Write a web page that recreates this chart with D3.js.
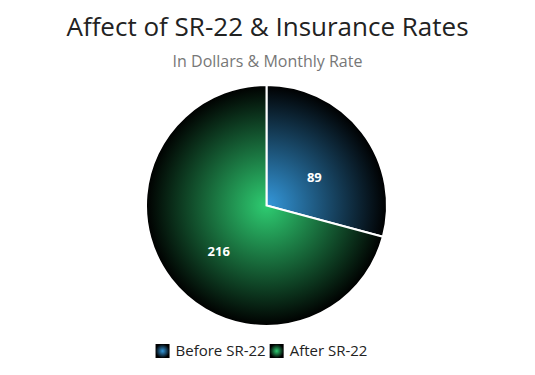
<!DOCTYPE html>
<html>
<head>
<meta charset="utf-8">
<script src="https://cdn.jsdelivr.net/npm/d3@7"></script>
<style>
  body { margin: 0; background: #fff; }
  svg { display: block; font-family: 'Open Sans', sans-serif; }
</style>
</head>
<body>
<svg id="chart" width="535" height="375"></svg>
<script>
// chart data
var categories = ['Before SR-22', 'After SR-22']
var values = [89, 216]
var colors = ['#3498db', '#2ecc71']
var title = 'Affect of SR-22 & Insurance Rates'
var subtitle = 'In Dollars & Monthly Rate'

var svg = d3.select('#chart'),
  width = +svg.attr('width'),
  height = +svg.attr('height')

var cx = 266.5, cy = 205.5, radius = 120.5

var defs = svg.append('defs')

// one radial gradient per slice, bright at the pie centre, black at the rim
categories.forEach(function (c, i) {
  var grad = defs.append('radialGradient')
    .attr('id', 'grad' + i)
    .attr('gradientUnits', 'userSpaceOnUse')
    .attr('cx', 0).attr('cy', 0).attr('r', radius)
  grad.append('stop').attr('offset', '0%').attr('stop-color', colors[i])
  grad.append('stop').attr('offset', '100%').attr('stop-color', '#000')

  // legend swatch gradient (bounding box units)
  var lg = defs.append('radialGradient')
    .attr('id', 'legGrad' + i)
  lg.append('stop').attr('offset', '0%').attr('stop-color', colors[i])
  lg.append('stop').attr('offset', '100%').attr('stop-color', '#000')
})

svg.append('text')
  .attr('x', width / 2)
  .attr('y', 36)
  .attr('text-anchor', 'middle')
  .attr('font-size', 26)
  .attr('fill', '#222')
  .text(title)

svg.append('text')
  .attr('x', width / 2)
  .attr('y', 67)
  .attr('text-anchor', 'middle')
  .attr('font-size', 16)
  .attr('fill', '#777')
  .text(subtitle)

var pie = d3.pie().sort(null).value(function (d) { return d })
var arc = d3.arc().innerRadius(0).outerRadius(radius)
var labelArc = d3.arc().innerRadius(radius * 0.5).outerRadius(radius * 0.5)

var g = svg.append('g')
  .attr('transform', 'translate(' + cx + ',' + cy + ')')

var arcs = pie(values)

g.selectAll('path')
  .data(arcs)
  .enter().append('path')
  .attr('d', arc)
  .attr('fill', function (d, i) { return 'url(#grad' + i + ')' })
  .attr('stroke', '#fff')
  .attr('stroke-width', 2)

g.selectAll('text.lbl')
  .data(arcs)
  .enter().append('text')
  .attr('class', 'lbl')
  .attr('transform', function (d) {
    var c = labelArc.centroid(d)
    return 'translate(' + c[0] + ',' + (c[1] + 9) + ')'
  })
  .attr('text-anchor', 'middle')
  .attr('dy', '0.35em')
  .attr('font-size', 13)
  .attr('font-weight', 'bold')
  .attr('fill', '#fff')
  .text(function (d) { return d.value })

// legend, centred under the pie
var legend = svg.append('g')
var item = legend.selectAll('g')
  .data(categories)
  .enter().append('g')

item.append('rect')
  .attr('width', 14).attr('height', 14)
  .attr('y', -12)
  .attr('fill', function (d, i) { return 'url(#legGrad' + i + ')' })

item.append('text')
  .attr('x', 20)
  .attr('font-size', 15)
  .attr('fill', '#222')
  .text(function (d) { return d })

var xPos = 0
item.each(function () {
  d3.select(this).attr('transform', 'translate(' + xPos + ',0)')
  xPos += this.getBBox().width + 4
})
var legW = xPos - 4
legend.attr('transform', 'translate(' + (cx - 5 - legW / 2) + ',' + 356 + ')')
</script>
</body>
</html>
